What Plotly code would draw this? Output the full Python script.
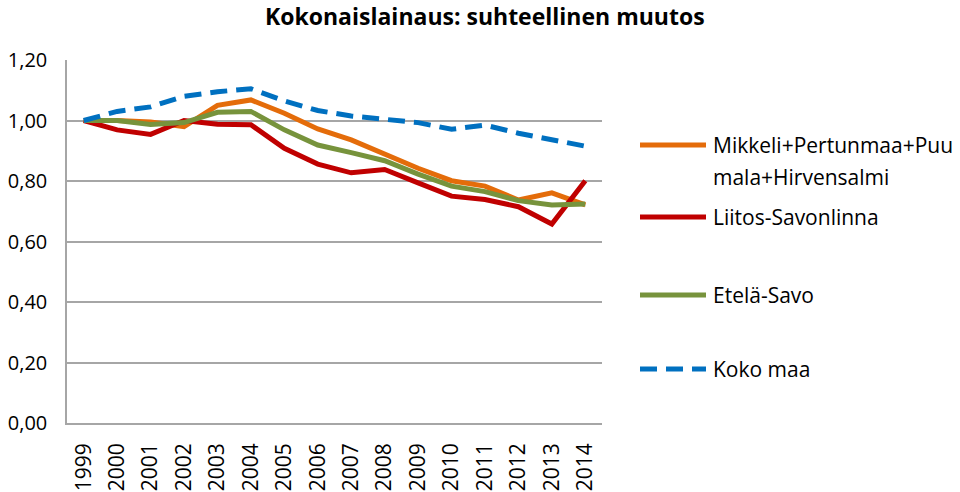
import plotly.graph_objects as go

years = [str(y) for y in range(1999, 2015)]
series_names = ["Mikkeli+Pertunmaa+Puu<br>mala+Hirvensalmi", "Liitos-Savonlinna", "Etelä-Savo", "Koko maa"]
mikkeli = [1.00, 1.00, 0.995, 0.98, 1.05, 1.068, 1.024, 0.972, 0.936, 0.889, 0.842, 0.801, 0.783, 0.737, 0.761, 0.721]
liitos = [1.00, 0.969, 0.954, 1.00, 0.988, 0.986, 0.908, 0.856, 0.827, 0.838, 0.794, 0.750, 0.739, 0.715, 0.658, 0.801]
etela = [1.00, 1.00, 0.987, 0.993, 1.027, 1.030, 0.969, 0.919, 0.894, 0.867, 0.823, 0.783, 0.765, 0.735, 0.721, 0.724]
koko = [1.00, 1.03, 1.045, 1.08, 1.095, 1.105, 1.065, 1.033, 1.015, 1.004, 0.993, 0.971, 0.985, 0.958, 0.938, 0.915]
y_ticks = [0.0, 0.2, 0.4, 0.6, 0.8, 1.0, 1.2]

colors = ["#E46C0A", "#C00000", "#77933C", "#0070C0"]
dashes = ["solid", "solid", "solid", "17px,9px"]
data = [mikkeli, liitos, etela, koko]

FONT = "Open Sans, sans-serif"

fig = go.Figure()
for name, vals, c, d in zip(series_names, data, colors, dashes):
    fig.add_trace(go.Scatter(x=years, y=vals, mode="lines", name=name,
                             line=dict(color=c, width=5, dash=d),
                             showlegend=False))

# manual legend (right side)
legend_y = [145, 217, 295, 369]  # pixel rows of legend lines
shapes = []
annots = []
for name, c, d, py in zip(series_names, colors, dashes, legend_y):
    ypaper = (423 - py) / 363
    shapes.append(dict(type="line", xref="paper", yref="paper",
                       x0=(640 - 67) / 535, x1=(706 - 67) / 535,
                       y0=ypaper, y1=ypaper,
                       line=dict(color=c, width=5, dash=d)))
    lines = name.split("<br>")
    for i, ln in enumerate(lines):
        annots.append(dict(text=ln, xref="paper", yref="paper",
                           x=(711 - 67) / 535, y=(423 - (py + 32 * i)) / 363,
                           xanchor="left", yanchor="middle", showarrow=False,
                           font=dict(family=FONT, size=21, color="#000000")))

fig.update_layout(
    width=960, height=492,
    margin=dict(l=67, r=358, t=60, b=69),
    paper_bgcolor="white", plot_bgcolor="white",
    separators=", ",
    shapes=shapes, annotations=annots,
    title=dict(text="<b>Kokonaislainaus: suhteellinen muutos</b>",
               x=0.505, xanchor="center", y=1 - 17 / 492, yanchor="middle",
               font=dict(family=FONT, size=23, color="#000000")),
    xaxis=dict(type="category", tickangle=-90, showgrid=False,
               showline=True, linecolor="#A6A6A6", linewidth=1.5,
               ticks="", tickfont=dict(family=FONT, size=21, color="#000000"),
               range=[-0.5, 15.5], ticklabelstandoff=10, automargin=False),
    yaxis=dict(range=[0, 1.2], tickvals=y_ticks, tickformat=".2f",
               showgrid=True, gridcolor="#A6A6A6", gridwidth=1.5,
               showline=True, linecolor="#A6A6A6", linewidth=1.5,
               zeroline=False, ticks="", ticklabelstandoff=14, automargin=False,
               tickfont=dict(family=FONT, size=20, color="#000000")),
)

fig.write_html("out.html")
